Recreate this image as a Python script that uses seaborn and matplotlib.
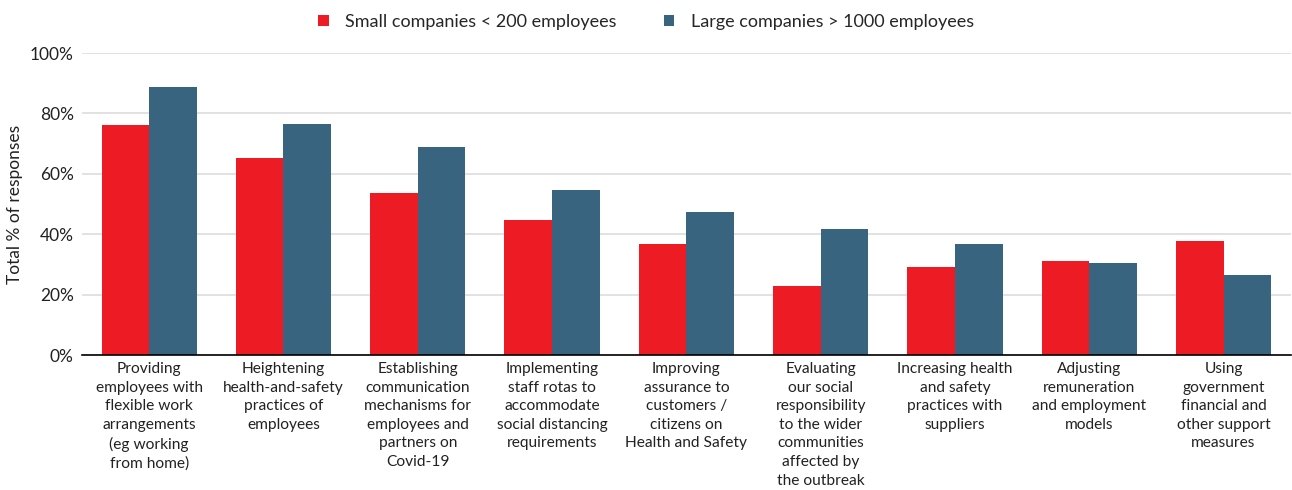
import matplotlib
matplotlib.use("Agg")
import matplotlib.pyplot as plt
import pandas as pd
import seaborn as sns
from matplotlib.ticker import FuncFormatter

categories = [
    "Providing\nemployees with\nflexible work\narrangements\n(eg working\nfrom home)",
    "Heightening\nhealth-and-safety\npractices of\nemployees",
    "Establishing\ncommunication\nmechanisms for\nemployees and\npartners on\nCovid-19",
    "Implementing\nstaff rotas to\naccommodate\nsocial distancing\nrequirements",
    "Improving\nassurance to\ncustomers /\ncitizens on\nHealth and Safety",
    "Evaluating\nour social\nresponsibility\nto the wider\ncommunities\naffected by\nthe outbreak",
    "Increasing health\nand safety\npractices with\nsuppliers",
    "Adjusting\nremuneration\nand employment\nmodels",
    "Using\ngovernment\nfinancial and\nother support\nmeasures",
]
small = [76.2, 65.2, 53.6, 44.7, 36.8, 22.8, 29.1, 31.1, 37.7]
large = [88.7, 76.5, 68.9, 54.6, 47.4, 41.7, 36.8, 30.5, 26.5]
series = ["Small companies < 200 employees", "Large companies > 1000 employees"]
colors = ["#ED1C24", "#38647F"]

df = pd.DataFrame({
    "category": categories * 2,
    "series": [series[0]] * len(categories) + [series[1]] * len(categories),
    "value": small + large,
})

sns.set_style("white")
plt.rcParams["font.family"] = ["Lato", "DejaVu Sans"]

fig = plt.figure(figsize=(12.92, 4.9), dpi=100)
ax = fig.add_axes([0.0635, 0.2755, 0.9355, 0.6163])
sns.barplot(data=df, x="category", y="value", hue="series", palette=colors,
            width=0.71, saturation=1, linewidth=0, ax=ax, legend=True)

ax.set_ylim(0, 100)
ax.set_xlim(-0.5, len(categories) - 0.5)
ax.set_yticks([0, 20, 40, 60, 80, 100])
ax.yaxis.set_major_formatter(FuncFormatter(lambda v, _: f"{v:.0f}%"))
ax.grid(axis="y", color="#dddddd", linewidth=1.2)
ax.set_axisbelow(True)
for s in ["top", "right", "left"]:
    ax.spines[s].set_visible(False)
ax.spines["bottom"].set_color("black")
ax.spines["bottom"].set_linewidth(1.2)
ax.tick_params(axis="y", labelsize=12.5, colors="#222222", length=0, pad=6)
ax.tick_params(axis="x", labelsize=11.2, colors="#222222", length=0, pad=5)
for t in ax.get_xticklabels():
    t.set_linespacing(1.42)
ax.set_xlabel("")
ax.set_ylabel("Total % of responses", fontsize=12.5, color="#222222", labelpad=5)

handles, labels = ax.get_legend_handles_labels()
ax.get_legend().remove()
fig.legend(handles, labels, loc="center", bbox_to_anchor=(0.5, 0.955), ncol=2,
           frameon=False, fontsize=13, handlelength=0.6, handleheight=0.6,
           columnspacing=2.6, handletextpad=0.9)

fig.savefig("out.png", dpi=100)
